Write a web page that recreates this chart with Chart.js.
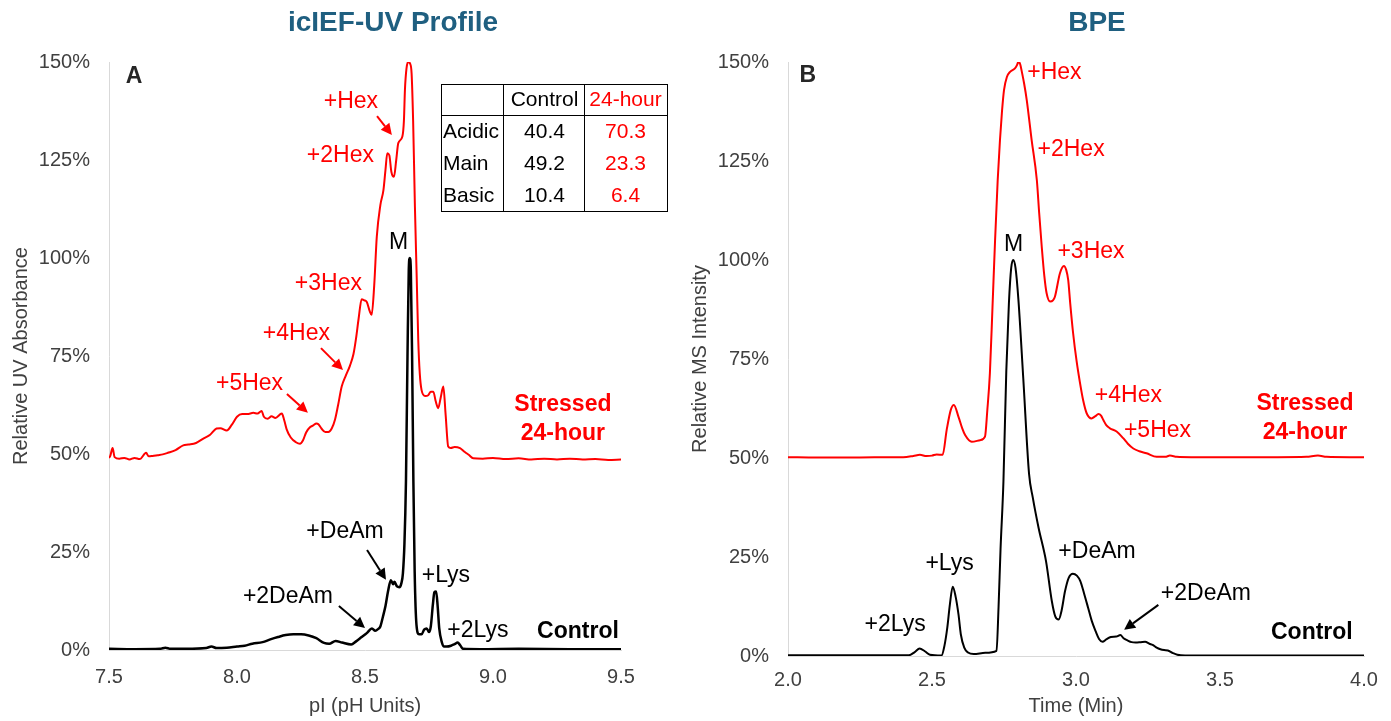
<!DOCTYPE html>
<html><head><meta charset="utf-8">
<script src="https://cdn.jsdelivr.net/npm/chart.js@4.4.1/dist/chart.umd.min.js"></script>
<style>
html,body{margin:0;padding:0;background:#fff;}
#wrap{position:relative;width:1391px;height:721px;overflow:hidden;}
canvas{position:absolute;top:0;}
</style></head><body>
<div id="wrap">
<canvas id="c1" width="680" height="721" style="left:0;width:680px;height:721px"></canvas>
<canvas id="c2" width="711" height="721" style="left:680px;width:711px;height:721px"></canvas>
</div>
<script>
// ---------- data: icIEF-UV profile (panel A) ----------
const iefStressedPI = [7.50,7.505,7.514,7.522,7.54,7.56,7.58,7.60,7.62,7.645,7.655,7.67,7.69,7.71,7.73,7.76,7.79,7.81,7.84,7.87,7.895,7.92,7.935,7.96,7.98,8.00,8.02,8.04,8.064,8.08,8.096,8.105,8.12,8.135,8.15,8.175,8.185,8.194,8.21,8.23,8.246,8.258,8.27,8.285,8.298,8.31,8.318,8.33,8.345,8.357,8.37,8.383,8.395,8.409,8.425,8.441,8.455,8.465,8.475,8.487,8.497,8.507,8.518,8.526,8.536,8.546,8.56,8.572,8.58,8.587,8.595,8.603,8.613,8.622,8.63,8.646,8.652,8.656,8.662,8.669,8.676,8.682,8.688,8.695,8.702,8.708,8.714,8.721,8.735,8.747,8.757,8.767,8.776,8.786,8.796,8.806,8.815,8.825,8.835,8.85,8.871,8.89,8.905,8.923,8.96,9.0,9.05,9.1,9.15,9.2,9.25,9.3,9.35,9.4,9.45,9.5];
const iefStressedAbs = [49.0,49.5,51.5,49.2,48.8,49.0,48.6,49.0,48.7,50.3,49.4,49.5,49.7,49.9,50.3,51.0,52.2,52.4,52.8,54.0,54.9,56.5,56.6,56.0,57.5,59.5,60.2,60.2,60.5,60.3,61.0,59.5,59.0,59.6,59.2,60.3,58.5,56.3,54.2,53.0,52.6,53.5,55.5,56.8,57.3,57.8,57.6,56.5,55.6,55.6,56.5,58.8,62.5,67.2,70.0,72.5,75.5,79.5,84.5,89.5,89.2,88.8,86.5,85.5,93.0,105.4,113.5,117.3,122.5,126.7,126.2,122.0,120.7,125.0,129.3,131.0,135.0,142.9,148.3,150.1,149.6,147.1,135.0,113.1,95.0,79.1,70.5,66.3,64.8,65.0,65.9,65.9,63.5,61.7,64.5,67.2,60.0,51.9,51.5,51.8,51.5,50.5,49.8,48.9,48.8,49.0,48.7,48.9,48.6,48.8,48.6,48.8,48.6,48.7,48.5,48.6];
const iefControlPI = [7.50,7.60,7.70,7.72,7.74,7.80,7.88,7.90,7.92,7.96,8.00,8.03,8.06,8.10,8.13,8.16,8.19,8.22,8.25,8.28,8.31,8.34,8.36,8.385,8.41,8.446,8.465,8.487,8.507,8.527,8.54,8.552,8.56,8.57,8.58,8.59,8.601,8.61,8.615,8.625,8.634,8.642,8.648,8.654,8.660,8.666,8.671,8.675,8.679,8.684,8.689,8.694,8.701,8.711,8.721,8.731,8.741,8.75,8.757,8.765,8.771,8.778,8.784,8.79,8.80,8.809,8.82,8.836,8.85,8.862,8.872,8.883,8.95,9.1,9.3,9.5];
const iefControlAbs = [0.3,0.2,0.3,0.6,0.3,0.3,0.5,0.9,0.5,0.6,0.9,1.1,1.6,2.0,2.7,3.3,3.8,4.0,4.0,3.7,3.0,1.8,1.6,2.3,1.9,1.4,2.2,3.3,4.3,5.5,4.9,5.4,6.0,8.5,11.2,15.0,17.8,16.8,17.4,16.2,16.0,17.0,19.5,27,43,75,97,100,97,75,43,20,6.5,4.0,4.0,5.2,5.5,4.6,6.0,11.5,14.7,14.9,11.0,5.5,2.0,0.9,0.9,1.1,1.5,1.9,1.2,0.3,0.2,0.3,0.2,0.2];

// ---------- data: BPE (panel B) ----------
const bpeStressedTime = [2.00,2.10,2.20,2.30,2.40,2.435,2.458,2.481,2.50,2.516,2.537,2.551,2.565,2.576,2.592,2.605,2.615,2.638,2.667,2.684,2.692,2.701,2.71,2.719,2.728,2.736,2.743,2.75,2.76,2.771,2.788,2.795,2.80,2.806,2.812,2.82,2.829,2.846,2.864,2.872,2.881,2.89,2.898,2.91,2.92,2.927,2.944,2.958,2.966,2.973,2.98,2.99,3.002,3.014,3.025,3.037,3.054,3.066,3.078,3.087,3.095,3.105,3.118,3.141,3.164,3.18,3.199,3.22,3.245,3.28,3.31,3.326,3.35,3.4,3.5,3.6,3.7,3.8,3.84,3.87,3.95,4.0];
const bpeStressedInt = [50.2,50.1,50.1,50.2,50.2,50.5,50.8,50.5,50.6,50.9,50.8,57.1,62.1,63.4,60.4,57.5,55.8,54.1,54.5,55.4,62.0,71.4,88.0,105.0,120.0,130.3,137.5,142.9,146.2,147.5,148.4,149.2,150.1,149.5,147.5,144.5,140.4,130.3,120.2,112.0,103.4,96.0,91.6,89.5,89.8,90.8,96.6,98.5,97.5,94.9,89.0,81.5,74.5,68.9,64.5,61.3,60.0,60.5,61.1,60.7,59.6,58.3,57.5,56.7,55.0,53.6,52.4,51.7,51.2,50.3,50.3,50.6,50.3,50.2,50.2,50.2,50.2,50.3,50.6,50.3,50.2,50.2];
const bpeControlTime = [2.00,2.20,2.42,2.44,2.457,2.475,2.493,2.533,2.543,2.553,2.562,2.572,2.582,2.592,2.60,2.612,2.625,2.645,2.685,2.724,2.731,2.738,2.748,2.758,2.767,2.775,2.782,2.79,2.80,2.817,2.837,2.85,2.87,2.896,2.916,2.928,2.94,2.95,2.962,2.975,2.989,3.003,3.015,3.028,3.042,3.055,3.068,3.08,3.092,3.105,3.121,3.14,3.154,3.165,3.18,3.193,3.207,3.225,3.24,3.255,3.266,3.28,3.293,3.306,3.319,3.335,3.352,3.379,3.5,4.0];
const bpeControlInt = [0.2,0.2,0.2,1.0,1.9,1.2,0.3,0.1,2.5,7.1,13.0,17.5,15.0,10.5,5.5,2.1,0.9,0.5,0.8,1.3,12.2,27.0,44.0,72.0,89.0,98.0,100.0,98.0,90.0,70.0,46.0,40.0,32.4,23.9,13.9,10.0,9.2,11.5,16.4,19.8,20.8,20.3,18.9,15.8,12.2,8.8,6.3,4.3,3.6,4.2,4.8,4.9,5.3,4.5,3.9,3.5,3.4,3.5,3.6,3.1,2.8,2.1,1.7,1.5,1.4,0.8,0.3,0.1,0.1,0.1];

// ---------- tick labels ----------
const percentTicks = [0,25,50,75,100,125,150];
const piTicks = [7.5,8.0,8.5,9.0,9.5];
const timeTicks = [2.0,2.5,3.0,3.5,4.0];

// ---------- table (panel A) ----------
const tableHeader = ['', 'Control', '24-hour'];
const tableRows = ['Acidic', 'Main', 'Basic'];
const tableControl = [40.4, 49.2, 10.4];
const tableStressed = [70.3, 23.3, 6.4];

const RED = '#ff0000', BLACK = '#000000', DARK = '#262626';
const FONT = '"Liberation Sans", Arial, Helvetica, sans-serif';

// ---------- annotations (anchored in data units) ----------
const iefLabels = [
  {t:'A', x:7.598, y:146.3, c:DARK, b:true},
  {t:'+Hex', x:8.445, y:139.9, c:RED},
  {t:'+2Hex', x:8.404, y:126.1, c:RED},
  {t:'+3Hex', x:8.357, y:93.5, c:RED},
  {t:'+4Hex', x:8.232, y:80.6, c:RED},
  {t:'+5Hex', x:8.049, y:68.0, c:RED},
  {t:'M', x:8.631, y:103.8, c:BLACK},
  {t:'+DeAm', x:8.422, y:30.2, c:BLACK},
  {t:'+2DeAm', x:8.199, y:13.6, c:BLACK},
  {t:'+Lys', x:8.816, y:19.0, c:BLACK},
  {t:'+2Lys', x:8.941, y:5.0, c:BLACK},
  {t:'Control', x:9.332, y:4.7, c:BLACK, b:true},
  {t:'Stressed', x:9.273, y:62.5, c:RED, b:true},
  {t:'24-hour', x:9.273, y:55.1, c:RED, b:true}
];
const iefArrows = [
  {x1:8.547, y1:136.2, x2:8.605, y2:131.4, c:RED},
  {x1:8.328, y1:77.0, x2:8.414, y2:71.4, c:RED},
  {x1:8.195, y1:65.3, x2:8.277, y2:60.5, c:RED},
  {x1:8.508, y1:25.5, x2:8.582, y2:17.9, c:BLACK},
  {x1:8.398, y1:11.2, x2:8.500, y2:5.6, c:BLACK}
];
const bpeLabels = [
  {t:'B', x:2.069, y:146.5, c:DARK, b:true},
  {t:'+Hex', x:2.925, y:147.4, c:RED},
  {t:'+2Hex', x:2.983, y:127.9, c:RED},
  {t:'+3Hex', x:3.052, y:102.0, c:RED},
  {t:'+4Hex', x:3.182, y:65.8, c:RED},
  {t:'+5Hex', x:3.283, y:56.9, c:RED},
  {t:'M', x:2.783, y:103.8, c:BLACK},
  {t:'+Lys', x:2.561, y:23.4, c:BLACK},
  {t:'+2Lys', x:2.372, y:7.8, c:BLACK},
  {t:'+DeAm', x:3.073, y:26.4, c:BLACK},
  {t:'+2DeAm', x:3.451, y:15.8, c:BLACK},
  {t:'Control', x:3.819, y:5.9, c:BLACK, b:true},
  {t:'Stressed', x:3.795, y:63.6, c:RED, b:true},
  {t:'24-hour', x:3.795, y:56.3, c:RED, b:true}
];
const bpeArrows = [
  {x1:3.286, y1:12.9, x2:3.167, y2:6.6, c:BLACK}
];

const zip = (xs, ys) => xs.map((x, i) => ({x: x, y: ys[i]}));

function drawArrow(ctx, x1, y1, x2, y2, color) {
  const ang = Math.atan2(y2 - y1, x2 - x1);
  const L = 11, W = 5.5;
  ctx.save();
  ctx.strokeStyle = color; ctx.fillStyle = color; ctx.lineWidth = 2;
  ctx.beginPath();
  ctx.moveTo(x1, y1);
  ctx.lineTo(x2 - L * Math.cos(ang), y2 - L * Math.sin(ang));
  ctx.stroke();
  ctx.beginPath();
  ctx.moveTo(x2, y2);
  ctx.lineTo(x2 - L * Math.cos(ang) + W * Math.sin(ang), y2 - L * Math.sin(ang) - W * Math.cos(ang));
  ctx.lineTo(x2 - L * Math.cos(ang) - W * Math.sin(ang), y2 - L * Math.sin(ang) + W * Math.cos(ang));
  ctx.closePath(); ctx.fill();
  ctx.restore();
}

const annotPlugin = {
  id: 'annot',
  afterDraw(chart, args, opts) {
    const ctx = chart.ctx;
    const xs = chart.scales.x, ys = chart.scales.y;
    ctx.save();
    // panel title
    if (opts.title) {
      ctx.font = 'bold 28px ' + FONT;
      ctx.fillStyle = '#1f5f80';
      ctx.textAlign = 'center'; ctx.textBaseline = 'middle';
      ctx.fillText(opts.title, opts.titleX, 23);
    }
    (opts.arrows || []).forEach(a => drawArrow(ctx,
      xs.getPixelForValue(a.x1), ys.getPixelForValue(a.y1),
      xs.getPixelForValue(a.x2), ys.getPixelForValue(a.y2), a.c));
    (opts.labels || []).forEach(l => {
      ctx.font = (l.b ? 'bold ' : '') + '23px ' + FONT;
      ctx.fillStyle = l.c;
      ctx.textAlign = 'center'; ctx.textBaseline = 'middle';
      ctx.fillText(l.t, xs.getPixelForValue(l.x), ys.getPixelForValue(l.y));
    });
    if (opts.table) {
      const L = 441, R = 667, T = 84, B = 211, HB = 115, C1 = 503, C2 = 584;
      ctx.fillStyle = '#fff';
      ctx.fillRect(L, T, R - L, B - T);
      ctx.strokeStyle = '#000'; ctx.lineWidth = 1;
      ctx.strokeRect(L + 0.5, T + 0.5, R - L, B - T);
      ctx.beginPath();
      ctx.moveTo(L, HB + 0.5); ctx.lineTo(R, HB + 0.5);
      ctx.moveTo(C1 + 0.5, T); ctx.lineTo(C1 + 0.5, B);
      ctx.moveTo(C2 + 0.5, T); ctx.lineTo(C2 + 0.5, B);
      ctx.stroke();
      ctx.font = '21px ' + FONT; ctx.textBaseline = 'middle';
      ctx.textAlign = 'center';
      ctx.fillStyle = '#000'; ctx.fillText(tableHeader[1], (C1 + C2) / 2 + 1, 100);
      ctx.fillStyle = RED; ctx.fillText(tableHeader[2], (C2 + R) / 2, 100);
      const rowY = [132, 164, 196];
      tableRows.forEach((r, i) => {
        ctx.textAlign = 'left'; ctx.fillStyle = '#000';
        ctx.fillText(r, L + 2, rowY[i]);
        ctx.textAlign = 'center';
        ctx.fillText(tableControl[i].toFixed(1), (C1 + C2) / 2 + 1, rowY[i]);
        ctx.fillStyle = RED;
        ctx.fillText(tableStressed[i].toFixed(1), (C2 + R) / 2, rowY[i]);
      });
    }
    ctx.restore();
  }
};

Chart.defaults.font.family = FONT;
Chart.defaults.color = '#404040';

function makeChart(id, cfg) {
  return new Chart(document.getElementById(id), {
    type: 'scatter',
    data: {
      datasets: [
        {label: 'Control', data: cfg.control, borderColor: BLACK, borderWidth: cfg.blackWidth, showLine: true, pointRadius: 0, cubicInterpolationMode: 'monotone'},
        {label: 'Stressed 24-hour', data: cfg.stressed, borderColor: RED, borderWidth: 2, showLine: true, pointRadius: 0, cubicInterpolationMode: 'monotone'}
      ]
    },
    options: {
      responsive: false, animation: false, devicePixelRatio: 1,
      layout: {padding: {top: 62, right: cfg.padRight, bottom: 0, left: 0}},
      plugins: {
        legend: {display: false}, tooltip: {enabled: false}, title: {display: false},
        annot: {labels: cfg.labels, arrows: cfg.arrows, title: cfg.title, titleX: cfg.titleX, table: cfg.table}
      },
      scales: {
        x: {
          type: 'linear', min: cfg.xTicks[0], max: cfg.xTicks[cfg.xTicks.length - 1],
          afterBuildTicks: s => { s.ticks = cfg.xTicks.map(v => ({value: v})); },
          afterFit: s => { s.height = cfg.xHeight; },
          grid: {display: false, drawTicks: false},
          border: {color: '#d9d9d9', width: 1},
          ticks: {font: {size: 20}, color: '#404040', padding: cfg.xTickPad, maxRotation: 0, autoSkip: false,
                  callback: v => Number(v).toFixed(1)},
          title: {display: true, text: cfg.xTitle, font: {size: 20}, color: '#404040', padding: {top: 0, bottom: 3}}
        },
        y: {
          type: 'linear', min: 0, max: 150,
          afterBuildTicks: s => { s.ticks = percentTicks.map(v => ({value: v})); },
          afterFit: s => { s.width = cfg.yWidth; },
          grid: {display: false, drawTicks: false},
          border: {color: '#d9d9d9', width: 1},
          ticks: {font: {size: 20}, color: '#404040', padding: 19, callback: v => v + '%'},
          title: {display: true, text: cfg.yTitle, font: {size: 20}, color: '#404040', padding: {top: cfg.yTitlePad, bottom: 0}}
        }
      }
    },
    plugins: [annotPlugin]
  });
}

makeChart('c1', {
  control: zip(iefControlPI, iefControlAbs),
  stressed: zip(iefStressedPI, iefStressedAbs),
  blackWidth: 2.5,
  padRight: 59, xHeight: 71, xTickPad: 15, yWidth: 109, yTitlePad: 9,
  xTicks: piTicks, xTitle: 'pI (pH Units)', yTitle: 'Relative UV Absorbance',
  labels: iefLabels, arrows: iefArrows, title: 'icIEF-UV Profile', titleX: 393, table: true
});
makeChart('c2', {
  control: zip(bpeControlTime, bpeControlInt),
  stressed: zip(bpeStressedTime, bpeStressedInt),
  blackWidth: 2,
  padRight: 27, xHeight: 65, xTickPad: 12, yWidth: 108, yTitlePad: 8,
  xTicks: timeTicks, xTitle: 'Time (Min)', yTitle: 'Relative MS Intensity',
  labels: bpeLabels, arrows: bpeArrows, title: 'BPE', titleX: 1097 - 680, table: false
});
</script>
</body></html>
